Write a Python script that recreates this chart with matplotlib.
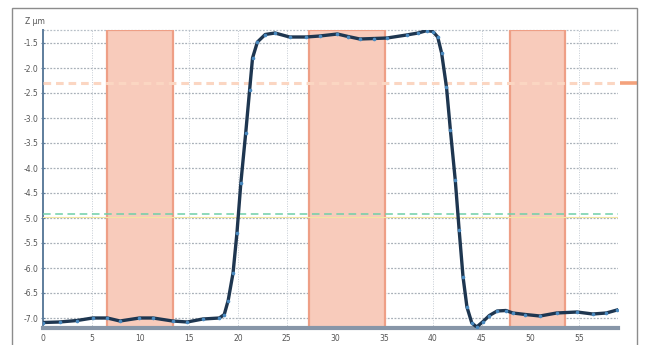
import matplotlib
matplotlib.use("Agg")
import matplotlib.pyplot as plt
from matplotlib.patches import Rectangle

# ---- data ----
pos_um = [0, 1.7, 3.5, 5.1, 6.6, 7.9, 9.9, 11.3, 13.3, 14.8, 16.4, 18.1, 18.6, 19.0, 19.5,
          19.9, 20.3, 20.8, 21.2, 21.5, 22.0, 22.8, 23.8, 25.3, 27.0, 28.4, 30.2, 31.3, 32.5,
          34.0, 35.3, 37.3, 38.5, 39.4, 40.0, 40.5, 40.9, 41.4, 41.8, 42.3, 42.7, 43.1, 43.5,
          44.0, 44.5, 45.1, 45.8, 46.6, 47.5, 48.2, 49.5, 51.0, 52.7, 54.8, 56.4, 57.8, 58.9]
z_um = [-7.09, -7.08, -7.05, -7.0, -7.0, -7.06, -7.0, -7.0, -7.06, -7.08, -7.02, -7.0, -6.93,
        -6.65, -6.1, -5.3, -4.3, -3.3, -2.44, -1.8, -1.48, -1.33, -1.3, -1.38, -1.38, -1.36,
        -1.32, -1.37, -1.42, -1.41, -1.40, -1.34, -1.3, -1.25, -1.27, -1.38, -1.7, -2.38,
        -3.24, -4.24, -5.24, -6.18, -6.78, -7.1, -7.18, -7.08, -6.95, -6.86, -6.85, -6.9,
        -6.93, -6.96, -6.9, -6.88, -6.92, -6.9, -6.84]
band_starts = [6.6, 27.3, 47.9]
band_ends = [13.3, 35.1, 53.6]
orange_level = -2.3
green_level = -4.92
x_ticks = [0, 5, 10, 15, 20, 25, 30, 35, 40, 45, 50, 55]
x_tick_labels = ["0", "5", "10", "15", "20", "25", "30", "35", "40", "45", "50", "55"]
y_ticks = [-1.5, -2.0, -2.5, -3.0, -3.5, -4.0, -4.5, -5.0, -5.5, -6.0, -6.5, -7.0]
y_tick_labels = ["-1.5", "-2.0", "-2.5", "-3.0", "-3.5", "-4.0", "-4.5", "-5.0", "-5.5",
                 "-6.0", "-6.5", "-7.0"]

fig = plt.figure(figsize=(6.49, 3.45), dpi=100)
fig.patch.set_facecolor("white")
# outer frame
fig.patches.append(Rectangle((12 / 649, -0.01), 625 / 649, 1 - 8 / 345 + 0.01,
                             transform=fig.transFigure, fill=False,
                             edgecolor="#8c8c8c", linewidth=1.0))

ax = fig.add_axes([43 / 649, 1 - 328 / 345, (618 - 43) / 649, (328 - 30) / 345])
ax.set_xlim(0, 59)
ax.set_ylim(-7.2, -1.24)

# grid
for yv in y_ticks:
    ax.axhline(yv, color="#a8b0b8", linewidth=0.9, linestyle=(0, (1.5, 1.2)), zorder=1)
for xv in x_ticks[1:]:
    ax.axvline(xv, color="#c5ccd4", linewidth=0.7, linestyle=(0, (1, 1.5)), zorder=1)
ax.axhline(-1.24, color="#b8c0c8", linewidth=0.9, linestyle=(0, (1.5, 1.2)), zorder=1, clip_on=False)

# bands
for s, e in zip(band_starts, band_ends):
    ax.axvspan(s, e, facecolor="#f8cbbb", edgecolor="#ee9f86", linewidth=1.6, zorder=2)

# reference lines
ax.axhline(orange_level, color="#fbd6c2", linewidth=2.2, linestyle=(0, (2.5, 1.6)), zorder=3)
ax.plot([59.2, 61.1], [orange_level, orange_level], color="#f4a27c", linewidth=2.6,
        clip_on=False, solid_capstyle="butt", zorder=3)
ax.axhline(green_level - 0.05, color="#f2e6a0", linewidth=0.8, zorder=3)
ax.axhline(green_level, color="#6fcfa8", linewidth=1.1, linestyle=(0, (5, 3)), zorder=3)

# profile
ax.plot(pos_um, z_um, color="#1e3650", linewidth=2.4, zorder=5)
ax.plot(pos_um, z_um, linestyle="none", marker="o", markersize=1.6,
        color="#4a8ac0", zorder=6)

# spines
for sp in ["top", "right"]:
    ax.spines[sp].set_visible(False)
ax.spines["left"].set_color("#5e7d9c")
ax.spines["left"].set_linewidth(1.4)
ax.spines["bottom"].set_color("#8796a8")
ax.spines["bottom"].set_linewidth(3)

ax.set_xticks(x_ticks)
ax.set_xticklabels(x_tick_labels)
ax.set_yticks(y_ticks)
ax.set_yticklabels(y_tick_labels)
ax.tick_params(axis="both", labelsize=5.5, labelcolor="#555555", color="#5e7d9c",
               length=3, width=0.8, direction="inout", pad=2)
ax.tick_params(axis="x", length=0, pad=4)

fig.text(25 / 649, 1 - 21 / 345, "Z µm", fontsize=5.5, color="#555555", va="center", ha="left")

fig.savefig("out.png", dpi=100, facecolor="white")
